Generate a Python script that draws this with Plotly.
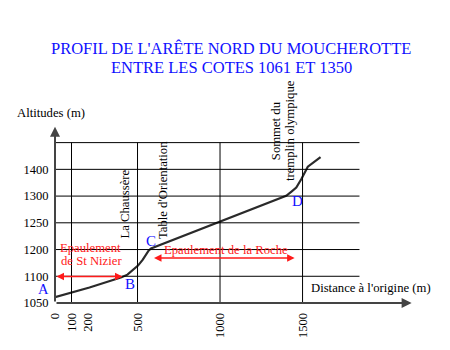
import numpy as np
import plotly.graph_objects as go

# Altitude levels marked on the vertical axis (evenly spaced on the drawing)
alt_levels = [1050, 1100, 1200, 1250, 1300, 1400, 1450]
alt_labels = ["1050", "1100", "1200", "1250", "1300", "1400", ""]

# Distances marked on the horizontal axis
dist_ticks = [0, 100, 200, 500, 1000, 1500]
dist_grid = [100, 500, 1000, 1500]

# Ridge profile: distance from origin (m) and altitude (m)
profile_dist = [0, 209, 361, 403, 439, 472, 503, 532, 553, 567, 582,
                1401, 1433, 1462, 1492, 1532, 1609]
profile_alt = [1061, 1079, 1094, 1098, 1106, 1124, 1140, 1162, 1181, 1196, 1202,
               1301, 1317, 1332, 1363, 1405, 1423]


def alt_to_level(a):
    """Place altitudes on the evenly spaced altitude grid."""
    return np.interp(a, alt_levels, np.arange(len(alt_levels)))


lev = list(range(len(alt_levels)))
serif = "Liberation Serif"
blue = "#1010ff"
red = "#ff1a1a"

fig = go.Figure()
fig.add_trace(go.Scatter(
    x=profile_dist,
    y=alt_to_level(profile_alt),
    mode="lines",
    line=dict(color="#2a2a2a", width=2.2),
    hoverinfo="skip",
))

shapes = []
grid_end = 1845
for k in lev[1:]:
    shapes.append(dict(type="line", xref="x", yref="y", x0=0, x1=grid_end, y0=k, y1=k,
                       line=dict(color="black", width=1)))
for d in dist_grid:
    shapes.append(dict(type="line", xref="x", yref="y", x0=d, x1=d, y0=0, y1=lev[-1],
                       line=dict(color="black", width=1)))

ann = []
# axes with arrowheads
ann.append(dict(x=2161, y=0, ax=0, ay=0, xref="x", yref="y", axref="x", ayref="y",
                text="", showarrow=True, arrowhead=2, arrowsize=1, arrowwidth=2,
                arrowcolor="#444", standoff=0))
ann.append(dict(x=0, y=6.59, ax=0, ay=0, xref="x", yref="y", axref="x", ayref="y",
                text="", showarrow=True, arrowhead=2, arrowsize=1, arrowwidth=2,
                arrowcolor="#444", standoff=0))


def txt(x, y, s, size=12.7, color="black", angle=0, ref="data"):
    r = ("x", "y") if ref == "data" else ("paper", "paper")
    ann.append(dict(x=x, y=y, xref=r[0], yref=r[1], text=s, showarrow=False,
                    textangle=angle, xanchor="center", yanchor="middle",
                    font=dict(family=serif, size=size, color=color)))


# title
txt(0.4757, 1.391, "PROFIL DE L'ARÊTE NORD DU MOUCHEROTTE", size=16.5, color=blue, ref="paper")
txt(0.4757, 1.287, "ENTRE LES COTES 1061 ET 1350", size=16.5, color=blue, ref="paper")

txt(-0.0108, 1.039, "Altitudes (m)", ref="paper")
txt(1916, 0.55, "Distance à l'origine (m)")

# landmarks
txt(427, 3.70, "La Chaussère", angle=-90)
txt(658, 4.21, "Table d'Orientation", angle=-90)
txt(1341, 6.44, "Sommet du", angle=-90)
txt(1425, 6.44, "tremplin olympique", angle=-90)

# points
txt(-0.030, 0.075, "A", size=14.5, color=blue, ref="paper")
txt(452, 0.71, "B", size=15, color=blue)
txt(579, 2.32, "C", size=15, color=blue)
txt(1470, 3.80, "D", size=15, color=blue)

# shoulders
txt(215, 2.06, "Epaulement", color=red)
txt(221, 1.57, "de St Nizier", color=red)
txt(1036, 2.00, "Epaulement de la Roche", color=red)
for x0, x1, yv in [(0, 409, 0.99), (591, 1452, 1.68)]:
    ann.append(dict(x=x1, y=yv, ax=x0, ay=yv, xref="x", yref="y", axref="x", ayref="y",
                    text="", showarrow=True, arrowhead=2, arrowside="end+start",
                    arrowsize=1, arrowwidth=1.5, arrowcolor=red, standoff=0,
                    startstandoff=0))

fig.update_layout(
    width=450, height=350,
    margin=dict(l=55, r=25, t=120, b=44),
    paper_bgcolor="white", plot_bgcolor="white",
    showlegend=False,
    shapes=shapes, annotations=ann,
    xaxis=dict(range=[0, 2242], tickvals=dist_ticks, ticktext=[str(d) for d in dist_ticks],
               tickangle=-90, showgrid=False, zeroline=False, showline=False,
               ticks="outside", ticklen=4, tickcolor="rgba(0,0,0,0)",
               tickfont=dict(family=serif, size=12.5, color="black")),
    yaxis=dict(range=[0, 6.846], tickvals=lev, ticktext=alt_labels,
               showgrid=False, zeroline=False, showline=False,
               ticks="outside", ticklen=3, tickcolor="rgba(0,0,0,0)",
               tickfont=dict(family=serif, size=12.5, color="black")),
)

fig.write_html("out.html")
